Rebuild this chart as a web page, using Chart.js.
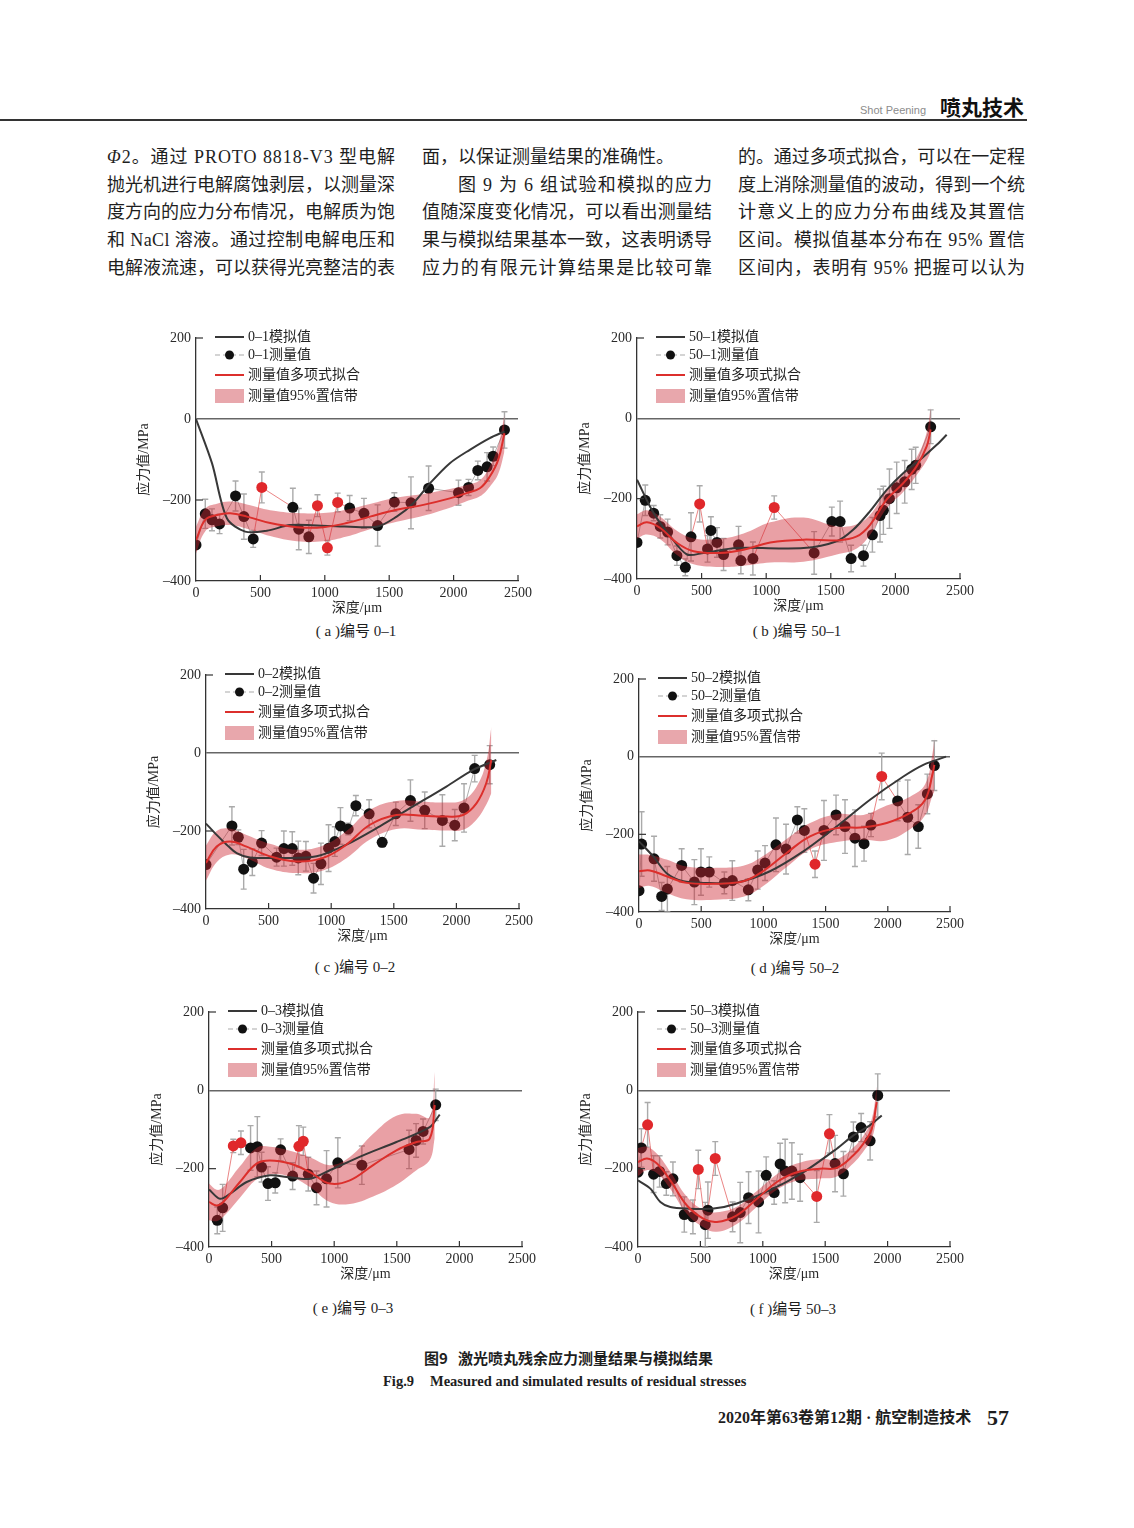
<!DOCTYPE html>
<html lang="zh-CN">
<head>
<meta charset="utf-8">
<title>图9 激光喷丸残余应力测量结果与模拟结果</title>
<script src="https://cdn.jsdelivr.net/npm/chart.js@4.4.1/dist/chart.umd.min.js"></script>
<style>
html,body{margin:0;padding:0;background:#fff;}
body{position:relative;width:1134px;height:1528px;overflow:hidden;color:#1e1e1e;font-family:"Liberation Serif","Noto Sans CJK SC",serif;}
.t{position:absolute;white-space:nowrap;}
.bl{position:absolute;white-space:nowrap;font-size:18px;line-height:24px;height:24px;display:inline-block;}
.panel{position:absolute;}
.sub{position:absolute;width:200px;text-align:center;font-size:15px;line-height:20px;white-space:nowrap;}
</style>
</head>
<body>
<div class="t" style="left:860px;top:102px;font-family:'Liberation Sans',Arial,sans-serif;font-size:11px;color:#8c8c8c;line-height:16px;">Shot Peening</div>
<div class="t" style="left:940px;top:93px;font-weight:bold;font-size:21px;line-height:26px;font-family:'Noto Sans CJK SC';color:#111;">喷丸技术</div>
<div style="position:absolute;left:0;top:119px;width:1027px;height:1.5px;background:#333;"></div>

<div class="t" style="left:424px;top:1348px;font-family:'Noto Sans CJK SC';font-weight:bold;font-size:15px;line-height:20px;">图9</div>
<div class="t" style="left:458px;top:1348px;font-family:'Noto Sans CJK SC';font-weight:bold;font-size:15px;line-height:20px;">激光喷丸残余应力测量结果与模拟结果</div>
<div class="t" style="left:383px;top:1371px;font-family:'Liberation Serif';font-weight:bold;font-size:14.5px;line-height:20px;">Fig.9</div>
<div class="t" style="left:430px;top:1371px;font-family:'Liberation Serif';font-weight:bold;font-size:14.5px;line-height:20px;">Measured and simulated results of residual stresses</div>
<div class="t" style="left:718px;top:1407px;font-family:'Liberation Serif','Noto Sans CJK SC';font-weight:bold;font-size:16px;line-height:22px;">2020年第63卷第12期 · 航空制造技术</div>
<div class="t" style="left:987px;top:1404px;font-family:'Liberation Serif';font-weight:bold;font-size:22px;line-height:28px;">57</div>

<script>
// ---------- (a) 0-1 ----------
const a_measX = [0,72,124,183,307,372,444,511,752,798,876,943,1020,1100,1193,1304,1410,1540,1669,1806,2038,2116,2188,2260,2307,2395];
const a_measY = [-311,-234,-249,-259,-190,-241,-296,-169,-218,-272,-291,-214,-318,-206,-220,-233,-263,-205,-207,-171,-182,-169,-127,-118,-92,-27];
const a_measErr = [8,36,27,24,37,56,21,38,47,51,41,27,18,23,31,37,51,23,64,55,31,20,23,35,23,45];
const a_redIdx = [7,11,12,13];
const a_simX = [0,124,240,382,550,731,1041,1403,1558,1687,1816,1971,2126,2281,2395];
const a_simY = [0,-109,-245,-278,-276,-262,-264,-266,-241,-208,-159,-109,-76,-47,-31];
const a_fitX = [0,72,163,266,395,576,783,989,1170,1351,1558,1765,1971,2100,2204,2281,2346,2395];
const a_fitY = [-299,-249,-237,-233,-241,-257,-267,-267,-257,-241,-224,-212,-196,-183,-171,-142,-101,-35];
const a_bandHalf = [33,28,28,29,30,32,35,35,33,31,30,27,23,20,20,25,35,45];

// ---------- (b) 50-1 ----------
const b_measX = [0,64,129,180,237,309,374,418,485,546,572,619,670,786,804,897,1062,1371,1508,1572,1657,1753,1822,1881,1907,1954,2010,2072,2126,2157,2273];
const b_measY = [-309,-204,-236,-269,-283,-342,-371,-295,-213,-325,-279,-309,-339,-315,-354,-349,-222,-335,-257,-257,-349,-342,-290,-242,-229,-200,-173,-158,-127,-117,-21];
const b_measErr = [8,38,19,29,32,24,21,60,45,33,34,37,40,46,33,41,29,53,36,51,33,26,43,66,60,74,64,53,50,45,42];
const b_redIdx = [8,16];
const b_simX = [0,129,258,387,515,773,1289,1546,1675,1804,1933,2062,2191,2320,2397];
const b_simY = [-153,-236,-294,-339,-335,-323,-323,-306,-277,-231,-178,-136,-103,-66,-41];
const b_fitX = [0,77,180,309,438,644,825,1031,1289,1546,1701,1804,1933,2062,2165,2242,2273];
const b_fitY = [-269,-259,-273,-310,-331,-335,-327,-309,-302,-304,-294,-265,-202,-161,-119,-70,-28];
const b_bandHalf = [30,30,28,30,32,35,40,50,55,35,30,25,22,22,22,35,55];

// ---------- (c) 0-2 ----------
const c_measX = [0,207,258,301,370,444,564,622,689,737,798,859,918,979,1029,1074,1136,1197,1303,1407,1516,1633,1747,1888,1987,2061,2146,2266];
const c_measY = [-286,-187,-216,-298,-280,-231,-267,-245,-245,-269,-265,-321,-284,-244,-227,-187,-195,-135,-156,-229,-156,-122,-147,-173,-185,-141,-40,-30];
const c_measErr = [9,49,19,51,34,32,23,45,43,43,38,38,53,60,38,47,15,26,36,12,30,53,47,66,40,62,34,49];
const c_redIdx = [];
const c_simX = [0,85,165,245,351,590,883,1122,1388,1654,1920,2133,2319];
const c_simY = [-181,-210,-235,-257,-268,-269,-265,-235,-188,-137,-86,-43,-18];
const c_fitX = [0,85,191,324,511,723,936,1122,1309,1521,1734,1920,2053,2160,2239,2279];
const c_fitY = [-282,-240,-227,-240,-265,-278,-269,-235,-184,-159,-161,-163,-159,-129,-77,-18];
const c_bandHalf = [45,40,33,30,32,30,32,35,38,36,36,36,38,42,55,85];

// ---------- (d) 50-2 ----------
const d_measX = [0,21,121,182,228,343,445,498,565,686,750,879,954,1013,1101,1182,1273,1329,1415,1487,1584,1656,1736,1809,1865,1951,2079,2160,2245,2318,2374];
const d_measY = [-345,-225,-263,-360,-341,-280,-323,-297,-297,-325,-319,-343,-292,-274,-227,-238,-163,-190,-277,-190,-150,-180,-210,-224,-176,-51,-114,-156,-180,-96,-23];
const d_measErr = [9,83,58,36,58,43,58,60,39,28,51,28,49,45,69,64,34,56,34,77,51,69,73,45,30,60,51,96,56,51,64];
const d_redIdx = [18,25];
const d_simX = [0,115,222,356,517,785,1053,1321,1589,1857,2125,2286,2468];
const d_simY = [-218,-257,-300,-321,-325,-324,-295,-244,-180,-111,-51,-21,0];
const d_fitX = [0,88,222,383,651,838,973,1187,1375,1589,1804,1991,2179,2300,2361,2374];
const d_fitY = [-295,-293,-308,-325,-327,-321,-300,-248,-205,-184,-182,-171,-145,-111,-43,-21];
const d_bandHalf = [43,40,43,42,41,40,39,36,34,36,32,45,42,40,55,70];

// ---------- (e) 0-3 ----------
const e_measX = [66,109,194,255,332,386,420,471,529,572,668,718,753,793,859,939,1029,1221,1598,1654,1710,1811];
const e_measY = [-332,-300,-142,-134,-147,-144,-196,-238,-236,-152,-219,-143,-130,-214,-249,-226,-185,-191,-151,-128,-105,-37];
const e_measErr = [34,60,17,30,57,77,38,43,26,28,34,53,36,43,43,72,64,49,49,43,32,40];
const e_redIdx = [2,3,11,12];
const e_simX = [0,88,168,301,487,620,806,965,1231,1497,1763,1843];
const e_simY = [-253,-277,-264,-234,-217,-221,-226,-204,-166,-132,-94,-62];
const e_fitX = [0,61,114,247,380,487,646,806,965,1125,1311,1497,1657,1763,1803];
const e_fitY = [-285,-294,-285,-234,-187,-179,-187,-209,-238,-230,-191,-153,-132,-123,-38];
const e_bandHalf = [47,40,38,40,40,35,33,38,47,60,80,88,72,55,85];

// ---------- (f) 50-3 ----------
const f_measX = [0,27,77,125,173,227,280,371,440,483,539,560,619,758,819,886,966,1027,1091,1139,1179,1233,1299,1432,1534,1579,1646,1726,1788,1860,1921];
const f_measY = [-209,-147,-88,-214,-207,-238,-226,-317,-323,-202,-343,-306,-174,-323,-312,-274,-285,-217,-261,-188,-206,-206,-223,-271,-111,-187,-213,-119,-95,-129,-13];
const f_measErr = [9,49,57,47,40,30,43,45,43,49,57,72,43,38,77,66,79,47,30,53,81,72,60,66,49,72,57,38,36,49,55];
const f_redIdx = [2,9,12,23,24];
const f_simX = [0,99,179,259,392,606,792,1059,1326,1593,1726,1860,1953];
const f_simY = [-230,-251,-285,-298,-302,-302,-289,-255,-209,-149,-115,-89,-64];
const f_fitX = [0,72,152,259,392,526,632,792,953,1113,1273,1459,1593,1726,1806,1873,1913];
const f_fitY = [-183,-174,-187,-230,-294,-328,-336,-319,-277,-234,-209,-200,-198,-166,-136,-98,-30];
const f_bandHalf = [36,30,25,22,22,22,25,22,20,20,22,25,22,20,20,25,40];

// axis ticks
const xTicks = [0,500,1000,1500,2000,2500];
const yTicks = [200,0,-200,-400];

// body text
const bodyCols = [
  {x:107, w:288, lines:[
    ['Φ2。通过 PROTO 8818-V3 型电解', true, 0],
    ['抛光机进行电解腐蚀剥层，以测量深', true, 0],
    ['度方向的应力分布情况，电解质为饱', true, 0],
    ['和 NaCl 溶液。通过控制电解电压和', true, 0],
    ['电解液流速，可以获得光亮整洁的表', true, 0]]},
  {x:422, w:290, lines:[
    ['面，以保证测量结果的准确性。', false, 0],
    ['图 9 为 6 组试验和模拟的应力', true, 36],
    ['值随深度变化情况，可以看出测量结', true, 0],
    ['果与模拟结果基本一致，这表明诱导', true, 0],
    ['应力的有限元计算结果是比较可靠', true, 0]]},
  {x:738, w:287, lines:[
    ['的。通过多项式拟合，可以在一定程', true, 0],
    ['度上消除测量值的波动，得到一个统', true, 0],
    ['计意义上的应力分布曲线及其置信', true, 0],
    ['区间。模拟值基本分布在 95% 置信', true, 0],
    ['区间内，表明有 95% 把握可以认为', true, 0]]}
];
const lineY = [157,185,212,240,268];
bodyCols.forEach(col => {
  col.lines.forEach((ln, i) => {
    const s = document.createElement('span');
    s.className = 'bl';
    s.innerHTML = ln[0].replace('Φ', '<i>Φ</i>');
    s.style.left = (col.x + ln[2]) + 'px';
    s.style.top = (lineY[i] - 12) + 'px';
    document.body.appendChild(s);
    if (ln[1]) {
      const W = col.w - ln[2];
      const w = s.getBoundingClientRect().width;
      const n = [...ln[0]].length;
      s.style.letterSpacing = ((W - w) / (n - 1)) + 'px';
    }
  });
});

// styles
const RED = '#e0282b';
const BAND = 'rgba(204,39,50,0.44)';
const FIT = '#dc2f2c';
const SIM = '#383838';

const panels = [
  {name:'0–1', cap:'( a )编号 0–1', box:[196,518,338,581], capPos:[356,631], mx:a_measX, my:a_measY, me:a_measErr, red:a_redIdx, sx:a_simX, sy:a_simY, fx:a_fitX, fy:a_fitY, bh:a_bandHalf},
  {name:'50–1', cap:'( b )编号 50–1', box:[637,960,338,579], capPos:[797,631], mx:b_measX, my:b_measY, me:b_measErr, red:b_redIdx, sx:b_simX, sy:b_simY, fx:b_fitX, fy:b_fitY, bh:b_bandHalf},
  {name:'0–2', cap:'( c )编号 0–2', box:[206,519,675,909], capPos:[355,967], mx:c_measX, my:c_measY, me:c_measErr, red:c_redIdx, sx:c_simX, sy:c_simY, fx:c_fitX, fy:c_fitY, bh:c_bandHalf},
  {name:'50–2', cap:'( d )编号 50–2', box:[639,950,679,912], capPos:[795,968], mx:d_measX, my:d_measY, me:d_measErr, red:d_redIdx, sx:d_simX, sy:d_simY, fx:d_fitX, fy:d_fitY, bh:d_bandHalf},
  {name:'0–3', cap:'( e )编号 0–3', box:[209,522,1012,1247], capPos:[353,1308], mx:e_measX, my:e_measY, me:e_measErr, red:e_redIdx, sx:e_simX, sy:e_simY, fx:e_fitX, fy:e_fitY, bh:e_bandHalf},
  {name:'50–3', cap:'( f )编号 50–3', box:[638,950,1012,1247], capPos:[793,1309], mx:f_measX, my:f_measY, me:f_measErr, red:f_redIdx, sx:f_simX, sy:f_simY, fx:f_fitX, fy:f_fitY, bh:f_bandHalf}
];

const xy = (xs, ys) => xs.map((x, i) => ({x: x, y: ys[i]}));

function makePanel(p) {
  const YW = 64, PT = 14, PR = 25, XH = 40;
  const [L, R, T, B] = p.box;
  const W = R - L + YW + PR, H = B - T + PT + XH;
  const div = document.createElement('div');
  div.className = 'panel';
  div.style.left = (L - YW) + 'px';
  div.style.top = (T - PT) + 'px';
  div.style.width = W + 'px';
  div.style.height = H + 'px';
  const cv = document.createElement('canvas');
  cv.width = W; cv.height = H;
  cv.style.width = W + 'px'; cv.style.height = H + 'px';
  div.appendChild(cv);
  document.body.appendChild(div);

  const sub = document.createElement('div');
  sub.className = 'sub';
  sub.textContent = p.cap;
  sub.style.left = (p.capPos[0] - 100) + 'px';
  sub.style.top = (p.capPos[1] - 10) + 'px';
  document.body.appendChild(sub);

  const errPlugin = {
    id: 'errbars',
    beforeDatasetsDraw(chart) {
      const {ctx, chartArea: ca, scales: {x, y}} = chart;
      ctx.save();
      ctx.beginPath();
      ctx.rect(ca.left, ca.top - 2, ca.right - ca.left, ca.bottom - ca.top + 4);
      ctx.clip();
      ctx.strokeStyle = 'rgba(155,155,155,0.85)';
      ctx.lineWidth = 1.4;
      p.mx.forEach((xv, i) => {
        const px = x.getPixelForValue(xv);
        const y1 = y.getPixelForValue(p.my[i] + p.me[i]);
        const y2 = y.getPixelForValue(p.my[i] - p.me[i]);
        ctx.beginPath();
        ctx.moveTo(px, y1); ctx.lineTo(px, y2);
        ctx.moveTo(px - 3, y1); ctx.lineTo(px + 3, y1);
        ctx.moveTo(px - 3, y2); ctx.lineTo(px + 3, y2);
        ctx.stroke();
      });
      ctx.restore();
    }
  };

  const decoPlugin = {
    id: 'deco',
    afterDraw(chart) {
      const {ctx, chartArea: ca, scales: {x, y}} = chart;
      ctx.save();
      ctx.strokeStyle = '#333';
      ctx.lineWidth = 1.2;
      xTicks.forEach(v => {
        if (v === 0) return;
        const px = x.getPixelForValue(v);
        ctx.beginPath(); ctx.moveTo(px, ca.bottom); ctx.lineTo(px, ca.bottom - 6); ctx.stroke();
      });
      yTicks.forEach(v => {
        if (v === -400 || v === 0) return;
        const py = y.getPixelForValue(v);
        ctx.beginPath(); ctx.moveTo(ca.left, py); ctx.lineTo(ca.left + 7, py); ctx.stroke();
      });
      // legend
      const lx = ca.left + 19, lw = 29, tx = ca.left + 52;
      const rows = [ca.top - 1, ca.top + 17, ca.top + 37, ca.top + 58];
      const labels = [p.name + '模拟值', p.name + '测量值', '测量值多项式拟合', '测量值95%置信带'];
      ctx.font = '14px "Liberation Serif", "Noto Sans CJK SC"';
      ctx.textBaseline = 'middle';
      ctx.textAlign = 'left';
      ctx.strokeStyle = SIM; ctx.lineWidth = 2;
      ctx.beginPath(); ctx.moveTo(lx, rows[0]); ctx.lineTo(lx + lw, rows[0]); ctx.stroke();
      ctx.strokeStyle = 'rgba(160,160,160,0.9)'; ctx.lineWidth = 1;
      ctx.setLineDash([5, 3]);
      ctx.beginPath(); ctx.moveTo(lx, rows[1]); ctx.lineTo(lx + lw, rows[1]); ctx.stroke();
      ctx.setLineDash([]);
      ctx.fillStyle = '#111';
      ctx.beginPath(); ctx.arc(lx + lw / 2, rows[1], 4.5, 0, Math.PI * 2); ctx.fill();
      ctx.strokeStyle = FIT; ctx.lineWidth = 2;
      ctx.beginPath(); ctx.moveTo(lx, rows[2]); ctx.lineTo(lx + lw, rows[2]); ctx.stroke();
      ctx.fillStyle = 'rgba(220,120,128,0.65)';
      ctx.fillRect(lx, rows[3] - 7, lw, 14);
      ctx.fillStyle = '#222';
      labels.forEach((t, i) => ctx.fillText(t, tx, rows[i] + 0.5));
      ctx.restore();
    }
  };

  const lo = p.fy.map((v, i) => v - p.bh[i]);
  const hi = p.fy.map((v, i) => v + p.bh[i]);
  const isRed = i => p.red.indexOf(i) >= 0;

  new Chart(cv, {
    type: 'line',
    data: {
      datasets: [
        {
          label: p.name + '测量值',
          data: xy(p.mx, p.my),
          borderColor: 'rgba(165,165,165,0.9)',
          borderWidth: 1,
          pointRadius: 5.5,
          pointHoverRadius: 5.5,
          pointBorderWidth: 0,
          pointBackgroundColor: p.mx.map((_, i) => isRed(i) ? RED : '#111'),
          tension: 0,
          fill: false,
          order: 5,
          segment: {
            borderColor: c => (isRed(c.p0DataIndex) || isRed(c.p1DataIndex)) ? 'rgba(232,120,120,0.9)' : undefined
          }
        },
        {
          label: 'lo',
          data: xy(p.fx, lo),
          borderWidth: 0,
          borderColor: 'rgba(0,0,0,0)',
          pointRadius: 0,
          tension: 0.4,
          fill: false,
          order: 4
        },
        {
          label: '测量值95%置信带',
          data: xy(p.fx, hi),
          borderWidth: 0,
          borderColor: 'rgba(0,0,0,0)',
          backgroundColor: BAND,
          pointRadius: 0,
          tension: 0.4,
          fill: {target: 1},
          order: 3
        },
        {
          label: p.name + '模拟值',
          data: xy(p.sx, p.sy),
          borderColor: SIM,
          borderWidth: 2,
          pointRadius: 0,
          tension: 0.3,
          fill: false,
          order: 2
        },
        {
          label: '测量值多项式拟合',
          data: xy(p.fx, p.fy),
          borderColor: FIT,
          borderWidth: 2,
          pointRadius: 0,
          tension: 0.4,
          fill: false,
          order: 1
        }
      ]
    },
    options: {
      responsive: false,
      devicePixelRatio: 1,
      animation: false,
      events: [],
      layout: {padding: {top: PT, right: PR, left: 0, bottom: 0}},
      plugins: {legend: {display: false}, tooltip: {enabled: false}},
      scales: {
        x: {
          type: 'linear',
          min: 0, max: 2500,
          afterFit: s => { s.height = XH; },
          afterBuildTicks: s => { s.ticks = xTicks.map(v => ({value: v})); },
          grid: {display: false, drawTicks: false},
          border: {display: true, color: '#333', width: 1.3},
          ticks: {color: '#2a2a2a', padding: 4, maxRotation: 0, autoSkip: false, font: {family: '"Liberation Serif"', size: 14},
            callback: v => String(v)},
          title: {display: true, text: '深度/μm', color: '#2a2a2a', padding: {top: 4, bottom: 4}, font: {family: '"Liberation Serif", "Noto Sans CJK SC"', size: 14}}
        },
        y: {
          type: 'linear',
          min: -400, max: 200,
          afterFit: s => { s.width = YW; },
          afterBuildTicks: s => { s.ticks = yTicks.map(v => ({value: v})); },
          grid: {
            drawTicks: false,
            lineWidth: 1.5,
            color: c => (c.tick && c.tick.value === 0) ? '#666' : 'rgba(0,0,0,0)'
          },
          border: {display: true, color: '#333', width: 1.3},
          ticks: {
            color: '#2a2a2a', padding: 5, font: {family: '"Liberation Serif"', size: 14},
            callback: v => v < 0 ? '–' + (-v) : String(v)
          },
          title: {display: true, text: '应力值/MPa', color: '#2a2a2a', padding: {top: 4, bottom: 4}, font: {family: '"Liberation Serif", "Noto Sans CJK SC"', size: 14}}
        }
      }
    },
    plugins: [errPlugin, decoPlugin]
  });
}

panels.forEach(makePanel);
</script>
</body>
</html>
